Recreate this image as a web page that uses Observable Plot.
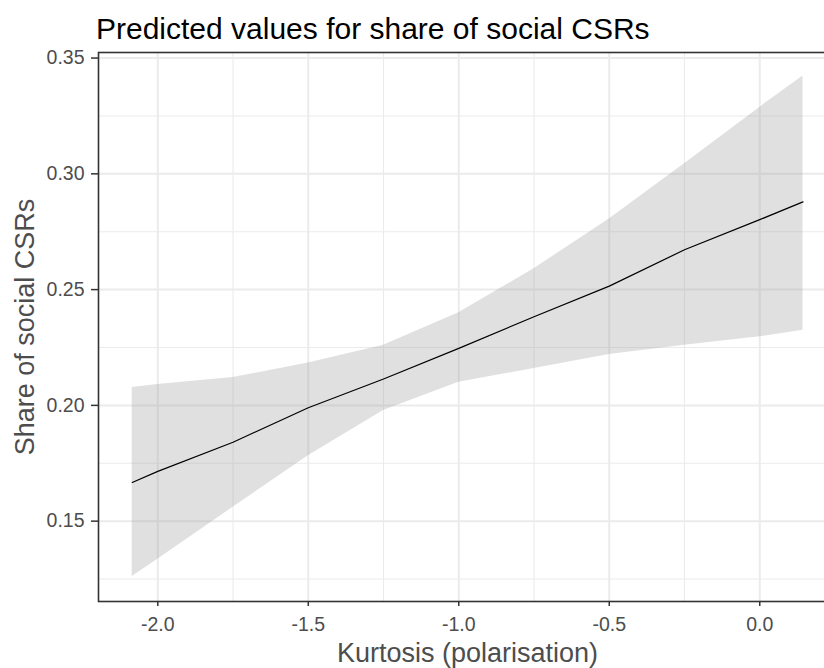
<!DOCTYPE html>
<html>
<head>
<meta charset="utf-8">
<script src="https://cdn.jsdelivr.net/npm/d3@7"></script>
<script src="https://cdn.jsdelivr.net/npm/@observablehq/plot@0.6"></script>
<style>
  html, body { margin: 0; padding: 0; background: white; overflow: hidden; width: 824px; height: 668px; }
  #title { height: 44px; box-sizing: border-box; padding-top: 14px; padding-left: 96px;
           font-family: "Liberation Sans", Arial, sans-serif; font-size: 30px; line-height: 30px; color: #000; white-space: nowrap; }
</style>
</head>
<body>
<div id="title">Predicted values for share of social CSRs</div>
<div id="chart"></div>
<script>
// x values (kurtosis) at which the prediction was read
const kurtosis = [-2.085, -2.0, -1.75, -1.5, -1.25, -1.0, -0.75, -0.5, -0.25, 0.0, 0.1436];
// predicted share of social CSRs
const predicted = [0.1667, 0.1715, 0.1841, 0.1990, 0.2114, 0.2246, 0.2383, 0.2515, 0.2672, 0.2802, 0.2879];
// confidence band
const upper = [0.2077, 0.2090, 0.2120, 0.2183, 0.2260, 0.2400, 0.2590, 0.2805, 0.3044, 0.3287, 0.3423];
const lower = [0.1261, 0.1335, 0.1560, 0.1783, 0.1978, 0.2100, 0.2159, 0.2220, 0.2260, 0.2296, 0.2324];

const xTicks = [-2.0, -1.5, -1.0, -0.5, 0.0];
const xMinor = [-1.75, -1.25, -0.75, -0.25];
const yTicks = [0.15, 0.20, 0.25, 0.30, 0.35];
const yMinor = [0.125, 0.175, 0.225, 0.275, 0.325];

const xLabel = "Kurtosis (polarisation)";
const yLabel = "Share of social CSRs";

const data = kurtosis.map((x, i) => ({x, fit: predicted[i], hi: upper[i], lo: lower[i]}));

const grid = "#EBEBEB";
const dark = "#333333";
const textCol = "#4D4D4D";

const chart = Plot.plot({
  width: 824,
  height: 624,
  marginTop: 8,
  marginBottom: 67,
  marginLeft: 98,
  marginRight: -12,
  x: {domain: [-2.197, 0.255]},
  y: {domain: [0.1153, 0.3524]},
  style: {fontFamily: "'Liberation Sans', Arial, sans-serif", background: "white", color: dark},
  marks: [
    Plot.ruleX(xMinor, {stroke: grid, strokeWidth: 1.1}),
    Plot.ruleY(yMinor, {stroke: grid, strokeWidth: 1.1}),
    Plot.ruleX(xTicks, {stroke: grid, strokeWidth: 2}),
    Plot.ruleY(yTicks, {stroke: grid, strokeWidth: 2}),
    Plot.areaY(data, {x: "x", y1: "lo", y2: "hi", fill: "#999999", fillOpacity: 0.3}),
    Plot.lineY(data, {x: "x", y: "fit", stroke: "black", strokeWidth: 1.2}),
    Plot.frame({stroke: dark, strokeWidth: 1.6}),
    Plot.axisX(xTicks, {tickSize: 5, tickPadding: 11, tickFormat: d => d.toFixed(1), fontSize: 19.5,
      stroke: dark, fill: textCol, strokeWidth: 1.5, label: null}),
    Plot.axisY(yTicks, {tickSize: 7, tickPadding: 7, tickFormat: d => d.toFixed(2), fontSize: 19.5,
      stroke: dark, fill: textCol, strokeWidth: 1.5, label: null}),
    Plot.text([xLabel], {frameAnchor: "bottom", lineAnchor: "bottom", dy: 60.5, text: d => d,
      fontSize: 27, fill: textCol}),
    Plot.text([yLabel], {frameAnchor: "left", textAnchor: "middle", lineAnchor: "bottom", rotate: -90, dx: -65, text: d => d,
      fontSize: 27, fill: textCol})
  ]
});
document.getElementById("chart").appendChild(chart);
</script>
</body>
</html>
